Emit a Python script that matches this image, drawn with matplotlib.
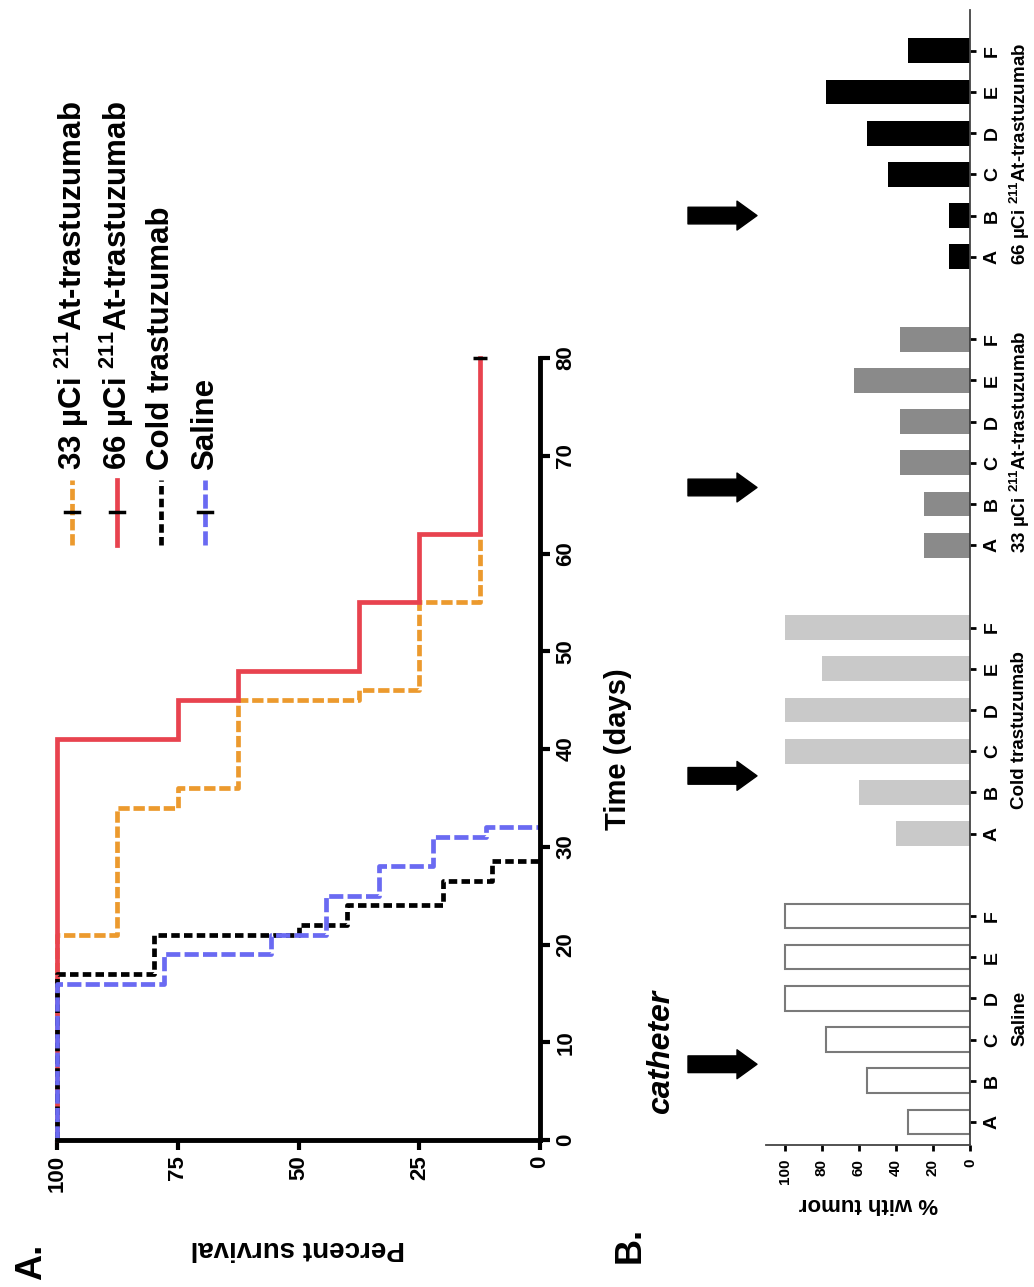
#!/usr/bin/env python3

import matplotlib
matplotlib.use("Agg")
import matplotlib.pyplot as plt
from matplotlib.lines import Line2D
import numpy as np

plt.rcParams['font.family'] = ['Liberation Sans', 'DejaVu Sans']
plt.rcParams['font.weight'] = 'bold'
plt.rcParams['mathtext.fontset'] = 'custom'
plt.rcParams['mathtext.rm'] = 'Liberation Sans:bold'
plt.rcParams['mathtext.bf'] = 'Liberation Sans:bold'
plt.rcParams['mathtext.it'] = 'Liberation Sans:bold:italic'

W, H = 1034, 1287

# ---- panel A: survival (Kaplan-Meier) ----
series_labels = ["33 µCi $^{211}$At-trastuzumab", "66 µCi $^{211}$At-trastuzumab",
                 "Cold trastuzumab", "Saline"]
t_33 = [0, 21, 34, 36, 45, 46, 55, 62]
s_33 = [100, 87.5, 75, 62.5, 37.5, 25, 12.5, 12.5]
t_66 = [0, 41, 45, 48, 55, 62, 80]
s_66 = [100, 75, 62.5, 37.5, 25, 12.5, 12.5]
t_cold = [0, 17, 21, 22, 24, 26.5, 28.5]
s_cold = [100, 80, 50, 40, 20, 10, 0]
t_sal = [0, 16, 19, 21, 25, 28, 31, 32]
s_sal = [100, 77.8, 55.6, 44.4, 33.3, 22.2, 11.1, 0]
censor_66 = (12.5, 80)

surv_ticks = [0, 25, 50, 75, 100]
time_ticks = [0, 10, 20, 30, 40, 50, 60, 70, 80]

# ---- panel B: % with tumor ----
groups = ["Saline", "Cold trastuzumab", "33 µCi $^{211}$At-trastuzumab",
          "66 µCi $^{211}$At-trastuzumab"]
letters = ["A", "B", "C", "D", "E", "F"]
tumor_saline = [33.3, 55.6, 77.8, 100, 100, 100]
tumor_cold = [40, 60, 100, 100, 80, 100]
tumor_33 = [25, 25, 37.5, 37.5, 62.5, 37.5]
tumor_66 = [11.1, 11.1, 44.4, 55.6, 77.8, 33.3]
tumor_ticks = [0, 20, 40, 60, 80, 100]
arrow_pos = [1.4, 8.4, 15.4, 22.0]

c_orange = "#ec9a2e"
c_red = "#e8434f"
c_blue = "#6a6af2"


def fx(px):
    return px / W


def fy(py):
    return 1 - py / H


fig = plt.figure(figsize=(W / 100, H / 100), dpi=100)

# panel A (drawn rotated: survival runs right-to-left, time bottom-to-top)
ax_a = fig.add_axes([fx(57), fy(1140), (540 - 57) / W, (1140 - 358) / H])
curves = [
    (t_33, s_33, c_orange, (2.4, 0.8)),
    (t_66, s_66, c_red, None),
    (t_cold, s_cold, "black", (1.8, 0.9)),
    (t_sal, s_sal, c_blue, (3.0, 0.9)),
]
for t, s, c, d in curves:
    ln, = ax_a.step(s, t, where='pre', color=c, lw=3.4, clip_on=False,
                    solid_joinstyle='miter')
    if d is not None:
        ln.set_dashes(d)
ax_a.plot([censor_66[0]], [censor_66[1]], marker='_', ms=10, mew=2.5,
          color='black', clip_on=False)

ax_a.set_xlim(100, 0)
ax_a.set_ylim(0, 80)
for side in ['left', 'top']:
    ax_a.spines[side].set_visible(False)
for side in ['right', 'bottom']:
    ax_a.spines[side].set_linewidth(3.5)
ax_a.yaxis.tick_right()
ax_a.set_xticks(surv_ticks)
ax_a.set_xticklabels([str(v) for v in surv_ticks], rotation=90, va='top',
                     ha='center', fontsize=16)
ax_a.set_yticks(time_ticks)
ax_a.set_yticklabels([str(v) for v in time_ticks], rotation=90, va='center',
                     ha='left', fontsize=16)
ax_a.tick_params(length=7, width=3, direction='out', pad=4)

fig.text(fx(298), fy(1248), "Percent survival", rotation=180, ha='center',
         va='center', fontsize=20)
fig.text(fx(618), fy(749), "Time (days)", rotation=90, ha='center',
         va='center', fontsize=21)
fig.text(fx(32), fy(1262), "A.", rotation=90, ha='center', va='center',
         fontsize=26)

# legend, drawn by hand so the text can stand rotated
leg_x = [72, 117, 161, 205]
for i, (t, s, c, d) in enumerate(curves):
    x = fx(leg_x[i])
    ln = Line2D([x, x], [fy(545), fy(480)], color=c, lw=3.4,
                transform=fig.transFigure)
    if d is not None:
        ln.set_dashes(d)
    fig.add_artist(ln)
    if i != 2:
        fig.add_artist(Line2D([fx(leg_x[i] - 7), fx(leg_x[i] + 7)],
                              [fy(512), fy(512)], color='black', lw=2.5,
                              transform=fig.transFigure))
    fig.text(x, fy(470), series_labels[i], rotation=90, rotation_mode='anchor',
             ha='left', va='center', fontsize=22.5)

# panel B (horizontal bars, baseline on the right)
ax_b = fig.add_axes([fx(766), fy(1145), (970 - 766) / W, (1145 - 10) / H])
tumor_sets = [tumor_saline, tumor_cold, tumor_33, tumor_66]
face = ["white", "#c9c9c9", "#8a8a8a", "black"]
edge = ["#7a7a7a", "#c9c9c9", "#8a8a8a", "black"]
all_pos = []
for g, vals in enumerate(tumor_sets):
    pos = np.arange(6) + 7 * g
    all_pos.extend(pos)
    ax_b.barh(pos, vals, height=0.6, color=face[g], edgecolor=edge[g],
              linewidth=1.5 if g == 0 else 0)
    ax_b.text(1.245, 7 * g + 2.5, groups[g], transform=ax_b.get_yaxis_transform(),
              rotation=90, ha='center', va='center', fontsize=13.5)

ax_b.set_xlim(110, 0)
ax_b.set_ylim(-0.56, 26.99)
for side in ['left', 'top']:
    ax_b.spines[side].set_visible(False)
for side in ['right', 'bottom']:
    ax_b.spines[side].set_linewidth(1.3)
    ax_b.spines[side].set_color('#444444')
ax_b.yaxis.tick_right()
ax_b.set_yticks(all_pos)
ax_b.set_yticklabels(letters * 4, rotation=90, va='center', ha='left',
                     fontsize=14)
ax_b.set_xticks(tumor_ticks)
ax_b.set_xticklabels([str(v) for v in tumor_ticks], rotation=90, va='top',
                     ha='center', fontsize=11)
ax_b.tick_params(length=4, width=2, direction='out', pad=6)

fig.text(fx(868), fy(1203), "% with tumor", rotation=180, ha='center',
         va='center', fontsize=16)
fig.text(fx(630), fy(1245), "B.", rotation=90, ha='center', va='center',
         fontsize=26)
fig.text(fx(661), fy(1052), "catheter", rotation=90, ha='center',
         va='center', fontsize=23, style='italic')

for p in arrow_pos:
    ax_b.annotate('', xy=(757, p), xytext=(688, p),
                  xycoords=('figure pixels', 'data'),
                  textcoords=('figure pixels', 'data'),
                  arrowprops=dict(arrowstyle='simple,head_width=1.3,head_length=0.9,tail_width=0.75',
                                  color='black', mutation_scale=16, shrinkA=0, shrinkB=0),
                  annotation_clip=False)

fig.savefig("out.png", dpi=100)
